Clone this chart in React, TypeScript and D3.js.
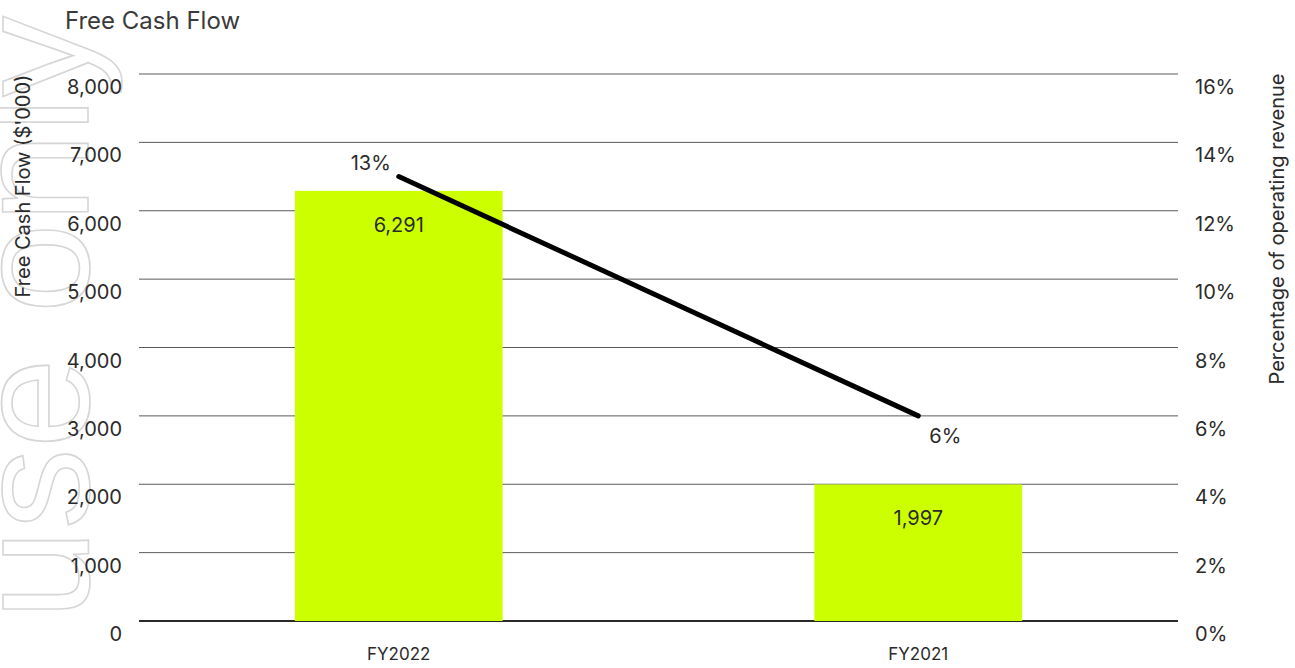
import React from "react";
import * as d3 from "d3";

// Free cash flow ($'000) and share of operating revenue by fiscal year
const categories = ["FY2022", "FY2021"];
const freeCashFlow = [6291, 1997];
const pctOfRevenue = [13, 6];
const leftTicks = [0, 1000, 2000, 3000, 4000, 5000, 6000, 7000, 8000];
const rightTicks = [0, 2, 4, 6, 8, 10, 12, 14, 16];

// where each percentage label sits relative to its point
const pctLabelOffsets = [
  { dx: -28, dy: -7 },
  { dx: 27, dy: 27 },
];

const W = 1295;
const H = 668;
const plot = { left: 139, right: 1178, top: 74, bottom: 621 };
const FONT = "Inter, 'Liberation Sans', Arial, sans-serif";
const TEXT = "#2b2b2b";

export default function App() {
  const x = d3
    .scaleBand<string>()
    .domain(categories)
    .range([plot.left, plot.right])
    .paddingInner(0.6)
    .paddingOuter(0.3);
  const yL = d3.scaleLinear().domain([0, 8000]).range([plot.bottom, plot.top]);
  const yR = d3.scaleLinear().domain([0, 16]).range([plot.bottom, plot.top]);
  const fmt = d3.format(",");

  const linePath = d3
    .line<number>()
    .x((_, i) => (x(categories[i]) as number) + x.bandwidth() / 2)
    .y((d) => yR(d))(pctOfRevenue) as string;

  return (
    <svg
      width={W}
      height={H}
      style={{ position: "absolute", left: 0, top: 0, background: "#fff" }}
      fontFamily={FONT}
    >
      {/* watermark */}
      <text
        transform="translate(88, 16) rotate(-90)"
        textAnchor="end"
        fontFamily="'Liberation Sans', Arial, sans-serif"
        fontSize={162}
        fill="none"
        stroke="#d6d6d6"
        strokeWidth={1.6}
      >
        For personal use only
      </text>

      <text x={65} y={29} fontSize={24} fill="#3a3a3a">
        Free Cash Flow
      </text>

      {/* gridlines */}
      {leftTicks.map((t) => (
        <line
          key={t}
          x1={plot.left}
          x2={plot.right}
          y1={yL(t)}
          y2={yL(t)}
          stroke={t === 0 ? "#2a2a2a" : "#5a5a5a"}
          strokeWidth={t === 0 ? 2 : 1}
        />
      ))}

      {/* left axis labels */}
      {leftTicks.map((t) => (
        <text
          key={t}
          x={122}
          y={yL(t) + 20}
          textAnchor="end"
          fontSize={20}
          fill={TEXT}
        >
          {fmt(t)}
        </text>
      ))}

      {/* right axis labels */}
      {rightTicks.map((t) => (
        <text key={t} x={1195} y={yR(t) + 20} fontSize={20} fill={TEXT}>
          {t}%
        </text>
      ))}

      <text
        transform={`translate(30, 186) rotate(-90)`}
        textAnchor="middle"
        fontSize={20}
        fill={TEXT}
      >
        Free Cash Flow ($'000)
      </text>
      <text
        transform={`translate(1284, 229) rotate(-90)`}
        textAnchor="middle"
        fontSize={20}
        fill={TEXT}
      >
        Percentage of operating revenue
      </text>

      {/* bars */}
      {categories.map((c, i) => (
        <rect
          key={c}
          x={x(c)}
          y={yL(freeCashFlow[i])}
          width={x.bandwidth()}
          height={yL(0) - yL(freeCashFlow[i])}
          fill="#ccff00"
        />
      ))}
      {categories.map((c, i) => (
        <text
          key={c}
          x={(x(c) as number) + x.bandwidth() / 2}
          y={yL(freeCashFlow[i]) + 41}
          textAnchor="middle"
          fontSize={20}
          fill={TEXT}
        >
          {fmt(freeCashFlow[i])}
        </text>
      ))}

      {/* percentage line */}
      <path
        d={linePath}
        fill="none"
        stroke="#000"
        strokeWidth={5}
        strokeLinecap="round"
      />
      {categories.map((c, i) => (
        <text
          key={c}
          x={(x(c) as number) + x.bandwidth() / 2 + pctLabelOffsets[i].dx}
          y={yR(pctOfRevenue[i]) + pctLabelOffsets[i].dy}
          textAnchor="middle"
          fontSize={20}
          fill={TEXT}
        >
          {pctOfRevenue[i]}%
        </text>
      ))}

      {/* category labels */}
      {categories.map((c) => (
        <text
          key={c}
          x={(x(c) as number) + x.bandwidth() / 2}
          y={660}
          textAnchor="middle"
          fontSize={17}
          fill={TEXT}
        >
          {c}
        </text>
      ))}
    </svg>
  );
}
